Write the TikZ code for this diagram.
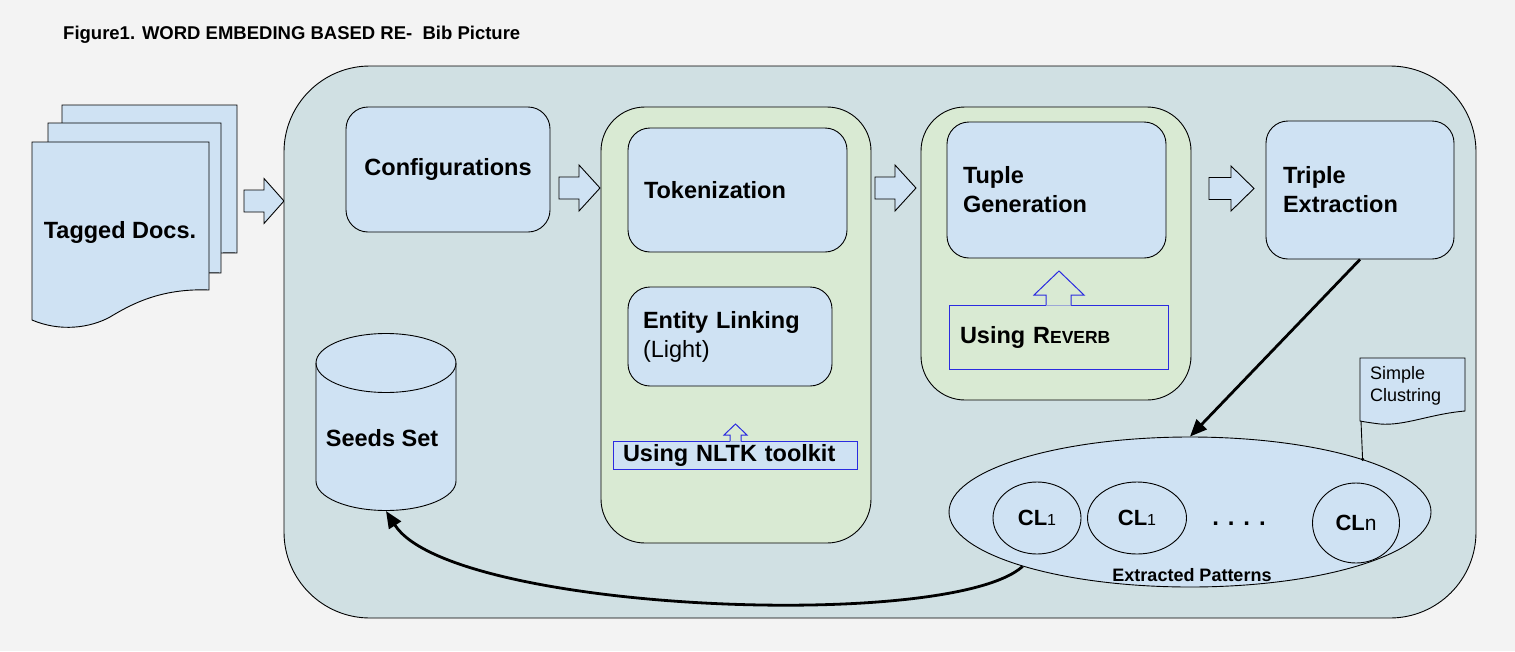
\documentclass[tikz,border=0pt]{standalone}
\usepackage{fontspec}
\setmainfont{Liberation Sans}
\usetikzlibrary{shapes.geometric,arrows.meta}
\definecolor{bgc}{HTML}{F3F3F3}
\definecolor{mainc}{HTML}{D0E0E3}
\definecolor{boxc}{HTML}{CFE2F3}
\definecolor{grnc}{HTML}{D9EAD3}
\definecolor{bluel}{HTML}{2B2BE0}
\newcommand\docpage[4]{\draw[outl, fill=boxc] (#1,#2) -- (#3,#2) -- (#3,#4) .. controls ({#3-49},{#4-2}) and ({#3-79},{#4+15}) .. ({#3-99},{#4+27}) .. controls ({#3-119},{#4+38}) and ({#3-149},{#4+42}) .. (#1,{#4+30}) -- cycle;}
\newcommand\blockarr[6]{\draw[blk] (#1,{#4-#5}) -- (#2,{#4-#5}) -- (#2,{#4-#6}) -- (#3,#4) -- (#2,{#4+#6}) -- (#2,{#4+#5}) -- (#1,{#4+#5}) -- cycle;}
% shaft x1, shaft x2, head x1, head x2, base y, head y, tip y
\newcommand\uparr[7]{\fill[grnc] (#1,{#5+0.6}) -- (#1,#6) -- (#3,#6) -- ({(#3+#4)/2},#7) -- (#4,#6) -- (#2,#6) -- (#2,{#5+0.6}) -- cycle;
\draw[ublue] (#1,#5) -- (#1,#6) -- (#3,#6) -- ({(#3+#4)/2},#7) -- (#4,#6) -- (#2,#6) -- (#2,#5);}
\newcommand\clt[2]{{\fontsize{22}{26}\selectfont\bfseries CL}{\fontsize{#1}{20}\selectfont #2}}
\begin{document}
\begin{tikzpicture}[x=1pt,y=-1pt,
 outl/.style={draw=black, line width=0.9pt},
 bbox/.style={outl, fill=boxc, rounded corners=22pt, inner ysep=0pt},
 gbox/.style={outl, fill=grnc, rounded corners=44pt, inner sep=0pt},
 lbl/.style={font=\fontsize{23.5}{29}\selectfont\bfseries},
 ublue/.style={draw=bluel, line width=1pt},
 blk/.style={outl, fill=boxc, line join=miter},
 thickarrow/.style={line width=2.8pt, -{Triangle[length=17pt,width=14pt]}},
 cl/.style={ellipse, outl, inner sep=0pt},
]
\useasboundingbox (0,0) rectangle (1515,651);
\fill[bgc] (0,0) rectangle (1515,651);

\node[anchor=west, font=\fontsize{18.5}{22}\selectfont\bfseries, inner sep=0pt] (title) at (63,35) {Figure1. WORD EMBEDING BASED RE-\ \ Bib Picture};

% documents
\docpage{62}{105}{237}{253}
\docpage{48}{123}{221}{273}
\docpage{32}{142}{209}{290}
\node[lbl] (docs) at (120,232) {Tagged Docs.};

\blockarr{244}{264}{284}{201}{11}{22.5}

\node[outl, fill=mainc, rounded corners=86pt, minimum width=1192pt, minimum height=552pt, inner sep=0pt] (main) at (880,342) {};

\node[bbox, lbl, minimum width=204pt, minimum height=125pt] (conf) at (448,169.5) {Configurations};
\blockarr{559}{579}{600}{188}{11}{23}

% tokenization group
\node[gbox, minimum width=270pt, minimum height=436pt] (tokgrp) at (736,325) {};
\node[bbox, lbl, minimum height=124pt, text width=187pt, inner xsep=16pt, align=left] (tok) at (737.5,190) {Tokenization};
\node[bbox, lbl, minimum height=99pt, text width=174pt, inner xsep=15pt, align=left] (ent) at (730,336.5) {Entity Linking\\{\mdseries (Light)}};
\node[ublue, fill=boxc, lbl, minimum height=28pt, inner ysep=0pt, text width=224pt, inner xsep=10pt, align=left] (nltk) at (735,455) {Using NLTK toolkit};
\uparr{730}{741}{724}{747}{441}{435}{424}

\blockarr{875}{895}{916}{188}{11}{23}

% tuple group
\node[gbox, minimum width=270pt, minimum height=293pt] (tupgrp) at (1056,253.5) {};
\node[bbox, lbl, minimum height=136pt, text width=187pt, inner xsep=16pt, align=left] (tup) at (1056.5,190) {Tuple\\Generation};
\node[ublue, lbl, minimum height=64pt, inner ysep=0pt, text width=197pt, inner xsep=11pt, align=left] (rev) at (1058.5,337) {Using R{\fontsize{17.5}{20}\selectfont EVERB}};
\uparr{1046}{1071}{1034}{1084}{305}{295}{271}

\blockarr{1209}{1231}{1254}{188.5}{11}{22.5}
\node[bbox, lbl, minimum height=138pt, text width=154pt, inner xsep=17pt, align=left] (trip) at (1360,190) {Triple\\Extraction};

% seeds cylinder
\draw[outl, fill=boxc] (316,363) -- (316,481) arc[start angle=180, end angle=360, x radius=70pt, y radius=29.5pt] -- (456,363) arc[start angle=0, end angle=180, x radius=70pt, y radius=29.5pt] -- cycle;
\draw[outl] (316,363) arc[start angle=180, end angle=360, x radius=70pt, y radius=29.5pt];
\node[lbl] (seeds) at (382,438) {Seeds Set};
\coordinate (seedsbot) at (386,511);

% extracted patterns
\node[cl, fill=boxc, minimum width=482pt, minimum height=150pt] (pat) at (1190,512) {};
\node[cl, minimum width=88pt, minimum height=72pt] (cla) at (1037,518) {\clt{16}{1}};
\node[cl, minimum width=99pt, minimum height=72pt] (clb) at (1137,518) {\clt{16}{1}};
\node[cl, minimum width=87pt, minimum height=80pt] (cln) at (1356,523) {\clt{21}{n}};
\node[font=\fontsize{24}{28}\selectfont\bfseries, inner sep=0pt] (dots) at (1239,524) {. . . .};
\node[font=\fontsize{18}{22}\selectfont\bfseries, inner sep=0pt] (ep) at (1192,575) {Extracted Patterns};

% callout
\draw[outl, fill=boxc] (1360,358) -- (1465,358) -- (1465,411) .. controls (1430,414) and (1405,426) .. (1380,424) .. controls (1372,423) and (1365,422) .. (1360,421) -- cycle;
\node[anchor=west, align=left, inner sep=0pt, font=\fontsize{18}{22}\selectfont] (clus) at (1370,386) {Simple\\Clustring};
\coordinate (clusptr) at (1361,421);
\draw[outl] (clusptr) -- (pat.17.2);
\fill (pat.17.2) circle[radius=1.8pt];

% connectors
\draw[thickarrow] (trip.south) -- (pat.north);
\draw[thickarrow] (pat.198) .. controls (950,632) and (450,612) .. (seedsbot);
\end{tikzpicture}
\end{document}
